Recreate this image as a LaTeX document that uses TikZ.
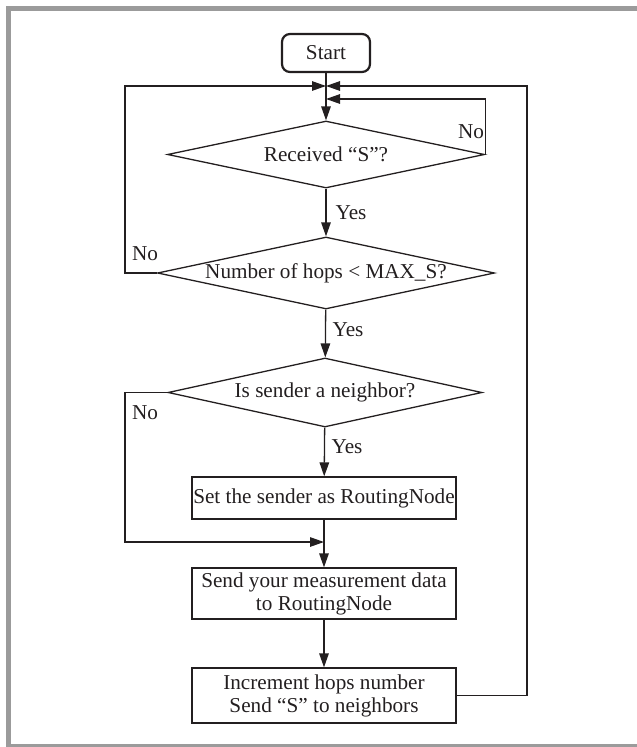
\documentclass[tikz,border=0pt]{standalone}
\usepackage{fontspec}
\setmainfont{Liberation Serif}
\usetikzlibrary{arrows.meta}
\usetikzlibrary{shapes}
\definecolor{framegray}{RGB}{155,155,155}
\definecolor{ink}{RGB}{35,31,32}

\begin{document}
\begin{tikzpicture}[x=1pt,y=-1pt,line width=1.3pt,color=ink,>={Triangle[length=14pt,width=9.5pt]}]
\tikzstyle{every node}=[font=\fontsize{21.2}{23}\selectfont]
\tikzstyle{decision}=[draw,diamond,aspect=4.7,inner ysep=0pt,inner xsep=-15pt]
\tikzstyle{block}=[draw,rectangle,align=center,inner sep=0pt,minimum width=264pt]
\tikzstyle{answer}=[inner sep=0pt]
\useasboundingbox (0,0) rectangle (637,747);
\fill[framegray] (6,6) rectangle (11,747);
\fill[framegray] (6,6) rectangle (637,11);
\fill[framegray] (6,744) rectangle (637,747);

\node [draw,rounded corners=8pt,line width=2.2pt,minimum width=88pt,minimum height=38pt,inner sep=0pt] (s) at (326,53) {Start};
\node [decision,minimum width=317pt,minimum height=67pt] (a) at (326,154.5) {Received “S”?};
\node [decision,minimum width=337pt,minimum height=72pt] (b) at (326,273) {Number of hops < MAX\_S?};
\node [decision,minimum width=314pt,minimum height=69pt] (c) at (325,392.5) {Is sender a neighbor?};
\node [block,minimum height=42pt] (d) at (324,498) {Set the sender as RoutingNode};
\node [block,minimum height=51pt] (e) at (324,593.5) {Send your measurement data\\to RoutingNode};
\node [block,minimum height=55pt] (f) at (324,695.5) {Increment hops number\\Send “S” to neighbors};

\coordinate (j1) at (326,86);
\coordinate (j2) at (326,99);
\coordinate (l1) at (125,86);
\coordinate (r1) at (527,86);
\coordinate (l2) at (125,542);
\coordinate (m) at (324,542);

\draw[->] (s) -- (a);
\draw[->] (a) -- (b);
\draw[->] (b) -- (c);
\draw[->] (c) -- (d);
\draw[->] (d) -- (e);
\draw[->] (e) -- (f);
\draw[->] (a.east) |- (j2);
\draw[->] (b.west) -| (l1) -- (j1);
\draw[->] (f.east) -| (r1) -- (j1);
\draw[->] (c.west) -| (l2) -- (m);

\node [answer] (n1) at (471,132) {No};
\node [answer] (y1) at (351,213) {Yes};
\node [answer] (n2) at (145,254) {No};
\node [answer] (y2) at (348,330) {Yes};
\node [answer] (n3) at (145,413) {No};
\node [answer] (y3) at (347,447) {Yes};
\end{tikzpicture}
\end{document}
